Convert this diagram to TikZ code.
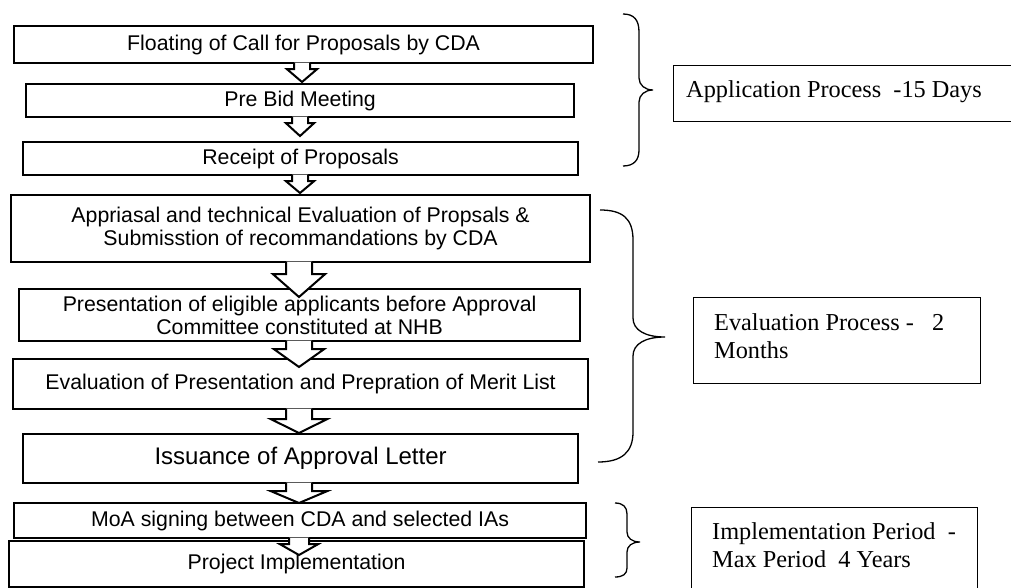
\documentclass[tikz,border=0pt]{standalone}
\usepackage{fontspec}
\setmainfont{Liberation Serif}
\newfontfamily\lsans{Liberation Sans}
\usetikzlibrary{calc}
\tikzset{
  lbox/.style={draw=black, line width=2.2pt, fill=white, anchor=north west, inner sep=0pt,
    align=center, font=\lsans\fontsize{21.3}{23}\selectfont},
  rbox/.style={draw=black, line width=1.4pt, anchor=north west, inner sep=0pt},
  rtext/.style={anchor=base west, inner sep=0pt, font=\fontsize{24.3}{28}\selectfont},
  barrow/.style={draw=black, line width=2pt, fill=white, line join=miter},
  bracepath/.style={draw=black, line width=1.3pt},
}
% #1 from node, #2 to node, #3 centre x, #4 shoulder drop, #5 tip overlap,
% #6 stem half width, #7 head half width
\newcommand{\blockarrow}[7]{%
  \draw[barrow] let \p1=(#1.south), \p2=(#2.north) in
    ({#3pt-#6pt},{\y1+1.5pt}) -- ({#3pt-#6pt},{\y1-#4pt}) -- ({#3pt-#7pt},{\y1-#4pt})
    -- ({#3pt},{\y2-#5pt}) -- ({#3pt+#7pt},{\y1-#4pt}) -- ({#3pt+#6pt},{\y1-#4pt})
    -- ({#3pt+#6pt},{\y1+1.5pt});
}
\begin{document}
\begin{tikzpicture}[x=1pt,y=-1pt]
\clip (0,0) rectangle (1011,588);
\fill[white] (0,0) rectangle (1011,588);

% left column boxes
\node[lbox, minimum width=579pt, minimum height=37pt] (b1) at (13,25) {Floating of Call for Proposals by CDA};
\node[lbox, minimum width=548pt, minimum height=33pt] (b2) at (25,83) {Pre Bid Meeting};
\node[lbox, minimum width=555pt, minimum height=33pt] (b3) at (22,141) {Receipt of Proposals};
\node[lbox, minimum width=579pt, minimum height=67pt] (b4) at (10,194)
  {Appriasal and technical Evaluation of Propsals \&\\Submisstion of recommandations by CDA};
\node[lbox, minimum width=561pt, minimum height=52pt] (b5) at (18,288)
  {Presentation of eligible applicants before Approval\\Committee constituted at NHB};
\node[lbox, minimum width=575pt, minimum height=50pt] (b6) at (12,358)
  {Evaluation of Presentation and Prepration of Merit List};
\node[lbox, minimum width=555pt, minimum height=49pt, font=\lsans\fontsize{24}{28}\selectfont] (b7) at (22,433)
  {Issuance of Approval Letter};
\node[lbox, minimum width=572pt, minimum height=35pt] (b8) at (13,502) {MoA signing between CDA and selected IAs};
\node[lbox, minimum width=575pt, minimum height=46pt] (b9) at (8,540) {Project Implementation};

% block arrows
\blockarrow{b1}{b2}{302}{5}{-1}{8}{15}
\blockarrow{b2}{b3}{300}{5}{-5}{8}{14}
\blockarrow{b3}{b4}{300}{5}{-1}{8}{14}
\blockarrow{b4}{b5}{299}{11}{9}{13}{26}
\blockarrow{b5}{b6}{299}{7}{9}{13}{25}
\blockarrow{b6}{b7}{299}{9}{0}{13}{28}
\blockarrow{b7}{b8}{299}{7}{1}{13}{28}
\blockarrow{b8}{b9}{299}{5}{15}{10}{19}

% braces
\draw[bracepath] (623,14) .. controls (634,14) and (639,20) .. (639,32) -- (639,78)
  .. controls (639,85) and (645,90) .. (653,90)
  .. controls (645,90) and (639,95) .. (639,102) -- (639,150)
  .. controls (639,160) and (634,166) .. (623,166);
\draw[bracepath] (600,210) .. controls (622,210) and (633,218) .. (633,240) -- (633,318)
  .. controls (633,330) and (645,337) .. (665,337)
  .. controls (645,337) and (633,344) .. (633,356) -- (633,432)
  .. controls (633,452) and (622,462) .. (598,462);
\draw[bracepath] (615,503) .. controls (623,503) and (627,507) .. (627,514) -- (627,532)
  .. controls (627,538) and (632,542) .. (640,542)
  .. controls (632,542) and (627,546) .. (627,552) -- (627,568)
  .. controls (627,574) and (623,577) .. (615,577);

% right boxes
\node[rbox, minimum width=347pt, minimum height=56pt] (appbox) at (673,65) {};
\node[rtext] (apptext) at (686,98) {Application Process\ \ -15 Days};
\node[rbox, minimum width=287pt, minimum height=86pt] (evalbox) at (693,297) {};
\node[rtext] (evaltexta) at (714,330) {Evaluation Process -\ \ \ 2};
\node[rtext] (evaltextb) at (714,358) {Months};
\node[rbox, minimum width=286pt, minimum height=95pt] (implbox) at (691,507) {};
\node[rtext] (impltexta) at (712,539) {Implementation Period\ \ -};
\node[rtext] (impltextb) at (712,567) {Max Period\ \ 4 Years};
\end{tikzpicture}
\end{document}
